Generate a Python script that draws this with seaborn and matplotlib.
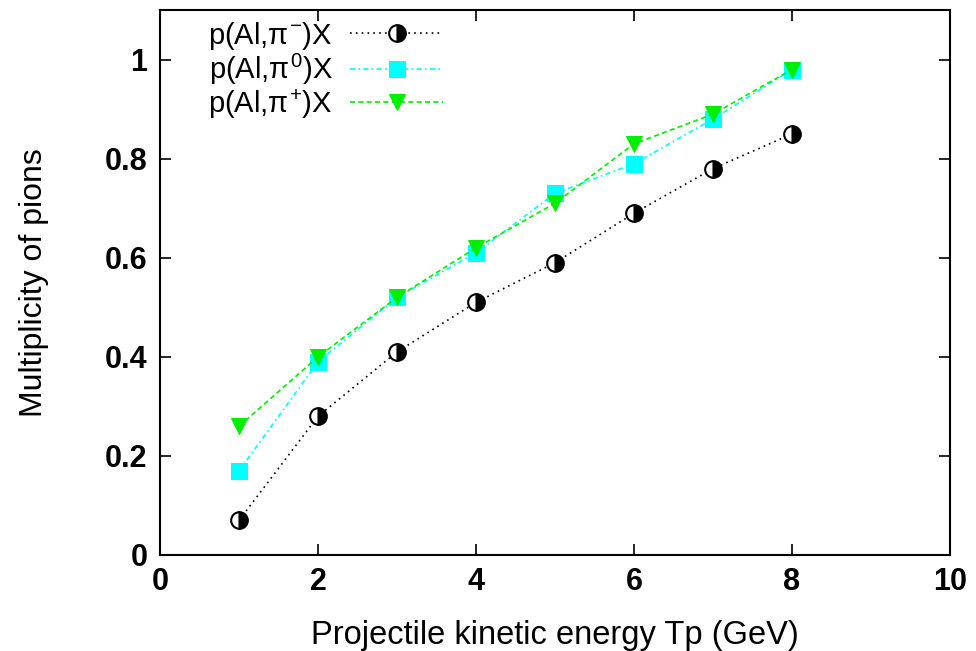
import matplotlib
matplotlib.use("Agg")
import matplotlib.pyplot as plt
import seaborn as sns
import pandas as pd

energy = [1, 2, 3, 4, 5, 6, 7, 8]
pi_minus = [0.07, 0.28, 0.41, 0.51, 0.59, 0.69, 0.78, 0.85]
pi_zero = [0.17, 0.39, 0.52, 0.61, 0.73, 0.79, 0.88, 0.98]
pi_plus = [0.26, 0.40, 0.52, 0.62, 0.71, 0.83, 0.89, 0.98]
labels = [r"p(Al,$\pi^{-}$)X", r"p(Al,$\pi^{0}$)X", r"p(Al,$\pi^{+}$)X"]
xticks = [0, 2, 4, 6, 8, 10]
yticks = [0, 0.2, 0.4, 0.6, 0.8, 1]
yticklabels = ["0", "0.2", "0.4", "0.6", "0.8", "1"]

sns.set_theme(style="ticks")
plt.rcParams['font.family'] = ['Liberation Sans', 'DejaVu Sans']
plt.rcParams['mathtext.fontset'] = 'custom'
plt.rcParams['mathtext.rm'] = 'Liberation Sans'
plt.rcParams['mathtext.it'] = 'Liberation Sans'
plt.rcParams['text.color'] = 'black'
plt.rcParams['axes.labelcolor'] = 'black'

fig = plt.figure(figsize=(9.76, 6.51), dpi=100)
ax = fig.add_axes([0.164, 0.1475, 0.8094, 0.837])

styles = [
    dict(color="black", marker="o", fillstyle="right", markerfacecolor="black",
         markerfacecoloralt="white", markeredgecolor="black", markersize=12,
         markeredgewidth=1.5, dashes=(1, 2.5), lw=1.2),
    dict(color="#00ffff", marker="s", markersize=12, markeredgecolor="#00ffff",
         dashes=(3, 2, 1, 2), lw=1.2),
    dict(color="#00ee00", marker="v", markersize=12, markeredgecolor="#00ee00",
         dashes=(3, 2), lw=1.2),
]
for vals, lab, st in zip([pi_minus, pi_zero, pi_plus], labels, styles):
    df = pd.DataFrame({"x": energy, "y": vals})
    sns.lineplot(data=df, x="x", y="y", ax=ax, label=lab, **st)

ax.set_xlim(0, 10)
ax.set_ylim(0, 1.1)
ax.set_xticks(xticks)
ax.set_yticks(yticks)
ax.set_xticklabels([str(t) for t in xticks], fontweight="bold")
ax.set_yticklabels(yticklabels, fontweight="bold")
ax.tick_params(direction="in", top=True, right=True, length=8, width=1.2,
               labelsize=22, pad=9, colors="black")
for s in ax.spines.values():
    s.set_linewidth(1.5)
    s.set_color("black")
ax.set_xlabel("Projectile kinetic energy Tp (GeV)", fontsize=23.5, labelpad=16,
              color="black")
ax.set_ylabel("Multiplicity of pions", fontsize=23, labelpad=40, color="black")

leg = ax.legend(loc="upper left", bbox_to_anchor=(0.035, 1.02), frameon=False,
                fontsize=21, markerfirst=False, handlelength=3.2,
                labelspacing=0.0, handletextpad=0.6, borderpad=0.2)
leg._legend_box.align = "right"
for t in leg.get_texts():
    t.set_color("black")

fig.savefig("out.png", dpi=100)
